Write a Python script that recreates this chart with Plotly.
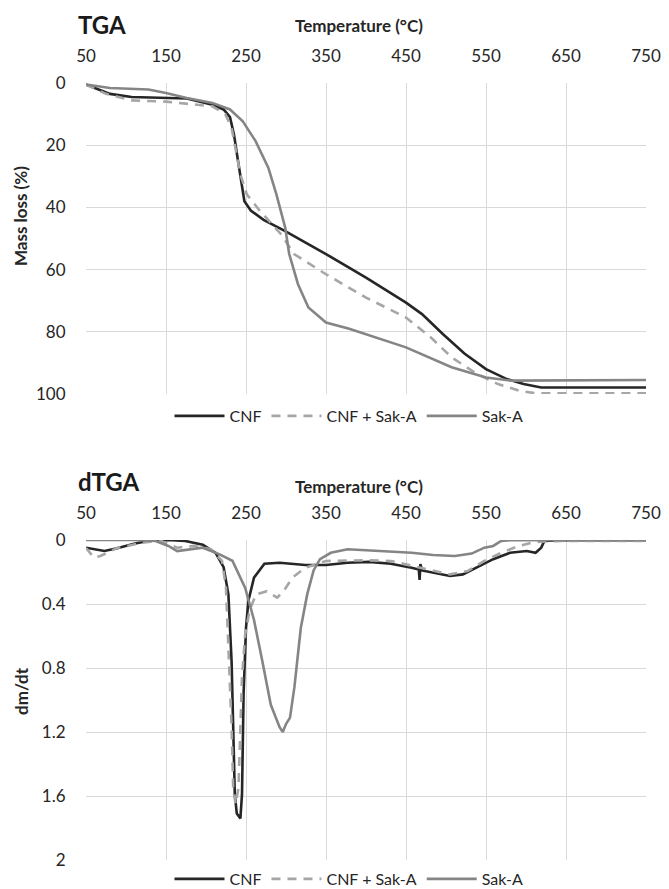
import plotly.graph_objects as go

W, H = 669, 889

# ---------------- data ----------------
tick_temps = [50, 150, 250, 350, 450, 550, 650, 750]
tga_ticks = [0, 20, 40, 60, 80, 100]
dtga_ticks = [0, 0.4, 0.8, 1.2, 1.6, 2]
dtga_ticktext = ["0", "0.4", "0.8", "1.2", "1.6", "2"]
series_names = ["CNF", "CNF + Sak-A", "Sak-A"]

# TGA: mass loss (%) vs temperature
tga_cnf_T = [50, 80, 107, 150, 176, 208, 222, 230, 235, 240, 245, 248, 256, 272, 299,
             350, 400, 450, 470, 496, 523, 550, 576, 597, 619, 750]
tga_cnf_m = [0.5, 3.5, 4.5, 4.8, 5.0, 7.0, 8.5, 11, 16.6, 25, 32.6, 38, 41, 44, 47.6,
             55, 62.6, 70.6, 74.3, 80.7, 87, 92, 95.2, 96.8, 97.9, 97.9]

tga_mix_T = [50, 75, 107, 150, 208, 224, 232, 238, 243, 251, 267, 294, 310, 350, 400,
             450, 481, 507, 539, 565, 592, 613, 750]
tga_mix_m = [0.5, 3.5, 5.6, 6.0, 7.5, 10, 14.4, 22, 29.4, 35.8, 41, 48.7, 55, 61.5, 69,
             75.4, 81.8, 88.2, 93.6, 96.8, 99, 99.8, 99.8]

tga_sak_T = [50, 80, 128, 150, 176, 208, 230, 246, 262, 278, 288, 299, 304, 315, 328,
             350, 379, 450, 507, 550, 581, 750]
tga_sak_m = [0.5, 1.6, 2.1, 3.2, 4.8, 6.4, 8.5, 12.3, 18.7, 27.3, 35.8, 46.5, 55, 64.7, 72.2,
             77, 79, 85, 91.4, 94.7, 95.7, 95.5]

# dTGA: dm/dt vs temperature
dtga_cnf_T = [50, 73, 89, 110, 132, 153, 174, 196, 212, 222, 228, 232, 234, 236, 238.5,
              243, 245, 247, 250, 253, 260, 273, 292, 324, 350, 377, 404, 431, 457, 466,
              467, 468, 470, 484, 505, 521, 537, 559, 580, 601, 612, 619, 623, 644, 750]
dtga_cnf_v = [0.048, 0.069, 0.052, 0.023, 0.002, 0.0, 0.006, 0.03, 0.08, 0.17, 0.34, 0.76,
              1.17, 1.59, 1.71, 1.74, 1.59, 0.96, 0.55, 0.38, 0.235, 0.148, 0.142, 0.156,
              0.156, 0.142, 0.137, 0.148, 0.173, 0.185, 0.25, 0.15, 0.19, 0.204, 0.225,
              0.215, 0.173, 0.12, 0.08, 0.069, 0.08, 0.048, 0.006, 0.002, 0.002]

dtga_mix_T = [50, 60, 68, 89, 121, 142, 164, 185, 206, 220, 225, 229, 232, 234, 237,
              240.6, 243, 245, 249, 254.5, 262.5, 276, 289, 297, 308, 324, 350, 377, 404,
              431, 457, 484, 505, 527, 548, 569, 591, 607, 618, 644, 750]
dtga_mix_v = [0.05, 0.11, 0.1, 0.05, 0.017, 0.002, 0.048, 0.037, 0.058, 0.13, 0.3, 0.76,
              1.17, 1.55, 1.65, 1.55, 1.17, 0.86, 0.59, 0.44, 0.34, 0.32, 0.36, 0.32,
              0.235, 0.173, 0.131, 0.127, 0.127, 0.131, 0.162, 0.194, 0.215, 0.194, 0.131,
              0.08, 0.037, 0.017, 0.01, 0.006, 0.006]

dtga_sak_T = [50, 110, 137, 153, 164, 180, 196, 217, 233, 249, 260, 270.5, 281, 292, 296,
              300, 305, 310.5, 318.5, 326.5, 334.5, 342.5, 356, 377, 404, 431, 457, 484,
              511, 532, 548, 559, 569, 580, 750]
dtga_sak_v = [0.0, 0.0, 0.006, 0.037, 0.069, 0.058, 0.048, 0.09, 0.13, 0.3, 0.5, 0.76,
              1.03, 1.17, 1.2, 1.15, 1.11, 0.92, 0.55, 0.34, 0.19, 0.12, 0.08, 0.058,
              0.065, 0.073, 0.08, 0.094, 0.1, 0.085, 0.048, 0.037, 0.006, 0.002, 0.0]

# ---------------- styling ----------------
FONT = "Lato"
TXT = "#262626"
GRID = "#d9d9d9"
styles = [dict(color="#262626", width=2.6, dash="solid"),
          dict(color="#a6a6a6", width=2.6, dash="9px,7px"),
          dict(color="#858585", width=2.6, dash="solid")]


def px_x(x):
    return x / W


def px_y(y):
    return 1 - y / H


fig = go.Figure()

tga_sets = [(tga_cnf_T, tga_cnf_m), (tga_mix_T, tga_mix_m), (tga_sak_T, tga_sak_m)]
dtga_sets = [(dtga_cnf_T, dtga_cnf_v), (dtga_mix_T, dtga_mix_v), (dtga_sak_T, dtga_sak_v)]

for name, (t, m), st in zip(series_names, tga_sets, styles):
    fig.add_trace(go.Scatter(x=t, y=m, name=name, mode="lines", line=st,
                             xaxis="x", yaxis="y", legend="legend"))
for name, (t, v), st in zip(series_names, dtga_sets, styles):
    fig.add_trace(go.Scatter(x=t, y=v, name=name, mode="lines", line=st,
                             xaxis="x2", yaxis="y2", legend="legend2"))

xdom = [px_x(78), px_x(638)]
common_x = dict(range=[50, 750], tickvals=tick_temps, side="top", showgrid=True,
                gridcolor=GRID, gridwidth=1, zeroline=False, showline=False,
                ticks="outside", ticklen=13, tickcolor="rgba(0,0,0,0)",
                tickfont=dict(family=FONT, size=17, color=TXT), domain=xdom,
                automargin=False)
common_y = dict(showgrid=True, gridcolor=GRID, gridwidth=1, zeroline=False,
                showline=False, ticks="outside", ticklen=16,
                tickcolor="rgba(0,0,0,0)", automargin=False,
                tickfont=dict(family=FONT, size=17, color=TXT))

leg_common = dict(orientation="h", x=px_x(341), xanchor="center", yanchor="middle",
                  font=dict(family=FONT, size=16, color=TXT), itemwidth=50,
                  bgcolor="rgba(0,0,0,0)", traceorder="normal")

fig.update_layout(
    width=W, height=H,
    margin=dict(l=0, r=0, t=0, b=0, autoexpand=False),
    paper_bgcolor="white", plot_bgcolor="white",
    font=dict(family=FONT, color=TXT),
    xaxis=dict(anchor="y", **common_x),
    yaxis=dict(anchor="x", range=[100, 0], tickvals=tga_ticks,
               domain=[px_y(386), px_y(75)], **common_y),
    xaxis2=dict(anchor="y2", **common_x),
    yaxis2=dict(anchor="x2", range=[2, 0], tickvals=dtga_ticks, ticktext=dtga_ticktext,
                domain=[px_y(852), px_y(532)], **common_y),
    legend=dict(y=px_y(408), **leg_common),
    legend2=dict(y=px_y(871), **leg_common),
    showlegend=True,
)

annots = [
    dict(text="<b>TGA</b>", x=px_x(68), y=px_y(17), xanchor="left", yanchor="middle",
         font=dict(family=FONT, size=24, color="#1a1a1a")),
    dict(text="<b>dTGA</b>", x=px_x(68), y=px_y(473), xanchor="left", yanchor="middle",
         font=dict(family=FONT, size=24, color="#1a1a1a")),
    dict(text="<b>Temperature (°C)</b>", x=px_x(351), y=px_y(18), xanchor="center",
         yanchor="middle", font=dict(family=FONT, size=17, color=TXT)),
    dict(text="<b>Temperature (°C)</b>", x=px_x(351), y=px_y(478), xanchor="center",
         yanchor="middle", font=dict(family=FONT, size=17, color=TXT)),
    dict(text="<b>Mass loss (%)</b>", x=px_x(13), y=px_y(208), xanchor="center",
         yanchor="middle", textangle=-90, font=dict(family=FONT, size=17, color=TXT)),
    dict(text="<b>dm/dt</b>", x=px_x(13), y=px_y(683), xanchor="center",
         yanchor="middle", textangle=-90, font=dict(family=FONT, size=17, color=TXT)),
]
for a in annots:
    fig.add_annotation(xref="paper", yref="paper", showarrow=False, **a)

fig.write_html("out.html")
